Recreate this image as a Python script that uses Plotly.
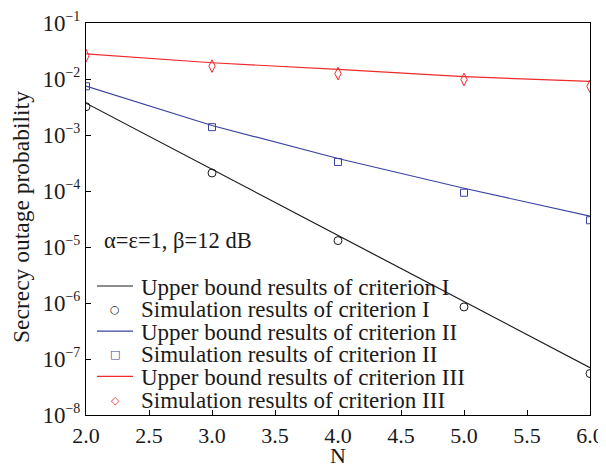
import plotly.graph_objects as go

N = [2, 3, 4, 5, 6]
ub1 = [3.7e-3, 2.45e-4, 1.6e-5, 1.05e-6, 7.0e-8]
sim1 = [3.2e-3, 2.1e-4, 1.3e-5, 8.5e-7, 5.5e-8]
ub2 = [7.5e-3, 1.48e-3, 3.8e-4, 1.12e-4, 3.55e-5]
sim2 = [7.4e-3, 1.38e-3, 3.3e-4, 9.3e-5, 3.0e-5]
ub3 = [2.8e-2, 1.95e-2, 1.48e-2, 1.1e-2, 9.1e-3]
sim3 = [2.6e-2, 1.7e-2, 1.25e-2, 9.8e-3, 7.4e-3]

names = [
    "Upper bound results of criterion I",
    "Simulation results of criterion I",
    "Upper bound results of criterion II",
    "Simulation results of criterion II",
    "Upper bound results of criterion III",
    "Simulation results of criterion III",
]
y_title = "Secrecy outage probability"
x_title = "N"
y_exponents = [-8, -7, -6, -5, -4, -3, -2, -1]

BLACK = "#1a1a1a"
BLUE = "#3a44a0"
RED = "#ee2a2a"
FONT = "Liberation Serif"

# the page body adds an 8px offset, so the figure is made smaller than the window
OFF = 8
W, H = 606 - OFF, 468 - OFF
ML, MR, MT, MB = 78, 16, 15, 53
PW, PH = W - ML - MR, H - MT - MB
SX0, SY1 = ML + OFF, H - MB + OFF  # plot-area left / bottom on screen

fig = go.Figure()
fig.add_trace(go.Scatter(x=N, y=ub1, mode="lines", name=names[0],
                         line=dict(color=BLACK, width=1.2)))
fig.add_trace(go.Scatter(x=N, y=sim1, mode="markers", name=names[1],
                         marker=dict(symbol="circle-open", size=8, color=BLACK,
                                     line=dict(width=1, color=BLACK))))
fig.add_trace(go.Scatter(x=N, y=ub2, mode="lines", name=names[2],
                         line=dict(color=BLUE, width=1.2)))
fig.add_trace(go.Scatter(x=N, y=sim2, mode="markers", name=names[3],
                         marker=dict(symbol="square-open", size=7, color=BLUE,
                                     line=dict(width=1, color=BLUE))))
fig.add_trace(go.Scatter(x=N, y=ub3, mode="lines", name=names[4],
                         line=dict(color=RED, width=1.2)))
fig.add_trace(go.Scatter(x=N, y=sim3, mode="markers", name=names[5],
                         marker=dict(symbol="diamond-tall-open", size=9, color=RED,
                                     line=dict(width=1, color=RED))))
fig.update_traces(showlegend=False)


def px_x(px):
    return (px - SX0) / PW


def px_y(py):
    return (SY1 - py) / PH


# Compact Origin-style legend
legend_colors = [BLACK, BLACK, BLUE, BLUE, RED, RED]
legend_kinds = ["line", "○", "line", "□", "line", "◇"]
row0, row_gap = 286, 22.6
annotations = []
shapes = []
for i, (nm, col, kind) in enumerate(zip(names, legend_colors, legend_kinds)):
    yc = row0 + i * row_gap
    if kind == "line":
        shapes.append(dict(type="line", xref="paper", yref="paper",
                           x0=px_x(97), x1=px_x(133), y0=px_y(yc), y1=px_y(yc),
                           line=dict(color=col, width=1.2)))
    else:
        annotations.append(dict(text=kind, xref="paper", yref="paper",
                                x=px_x(115), y=px_y(yc + 1), xanchor="center", yanchor="middle",
                                showarrow=False,
                                font=dict(family="DejaVu Sans", size=11, color=col)))
    annotations.append(dict(text=nm, xref="paper", yref="paper",
                            x=px_x(139), y=px_y(yc + 1), xanchor="left", yanchor="middle",
                            showarrow=False, font=dict(family=FONT, size=23, color="#1a1a1a")))

annotations.append(dict(text="α=ε=1, β=12 dB", xref="paper", yref="paper",
                        x=px_x(102), y=px_y(240), xanchor="left", yanchor="middle",
                        showarrow=False, font=dict(family=FONT, size=22.5, color="#1a1a1a")))

# y-axis title placed exactly
annotations.append(dict(text=y_title, xref="paper", yref="paper",
                        x=px_x(21), y=px_y(217), xanchor="center", yanchor="middle",
                        textangle=-90, showarrow=False,
                        font=dict(family=FONT, size=23.5, color="#1a1a1a")))

y_tickvals = [10.0 ** e for e in y_exponents]
y_ticktext = ["10<sup><span style='font-size:14px'>−%d</span></sup>" % abs(e) for e in y_exponents]

fig.update_layout(
    width=W, height=H,
    margin=dict(l=ML, r=MR, t=MT, b=MB),
    paper_bgcolor="white", plot_bgcolor="white",
    font=dict(family=FONT, size=22, color="#1a1a1a"),
    showlegend=False,
    xaxis=dict(range=[2, 6], dtick=0.5, tickformat=".1f", automargin=False,
               showgrid=False, zeroline=False, ticklabeloverflow="allow",
               showline=True, linecolor="black", linewidth=1.2, mirror=True,
               ticks="inside", ticklen=5, tickcolor="black",
               tickfont=dict(size=22),
               title=dict(text=x_title, font=dict(size=22), standoff=3)),
    yaxis=dict(type="log", range=[-8, -1], tickmode="array",
               tickvals=y_tickvals, ticktext=y_ticktext,
               automargin=False, ticklabeloverflow="allow",
               showgrid=False, zeroline=False,
               showline=True, linecolor="black", linewidth=1.2, mirror=True,
               ticks="inside", ticklen=5, tickcolor="black",
               tickfont=dict(size=23)),
    annotations=annotations,
    shapes=shapes,
)

fig.write_html("out.html")
